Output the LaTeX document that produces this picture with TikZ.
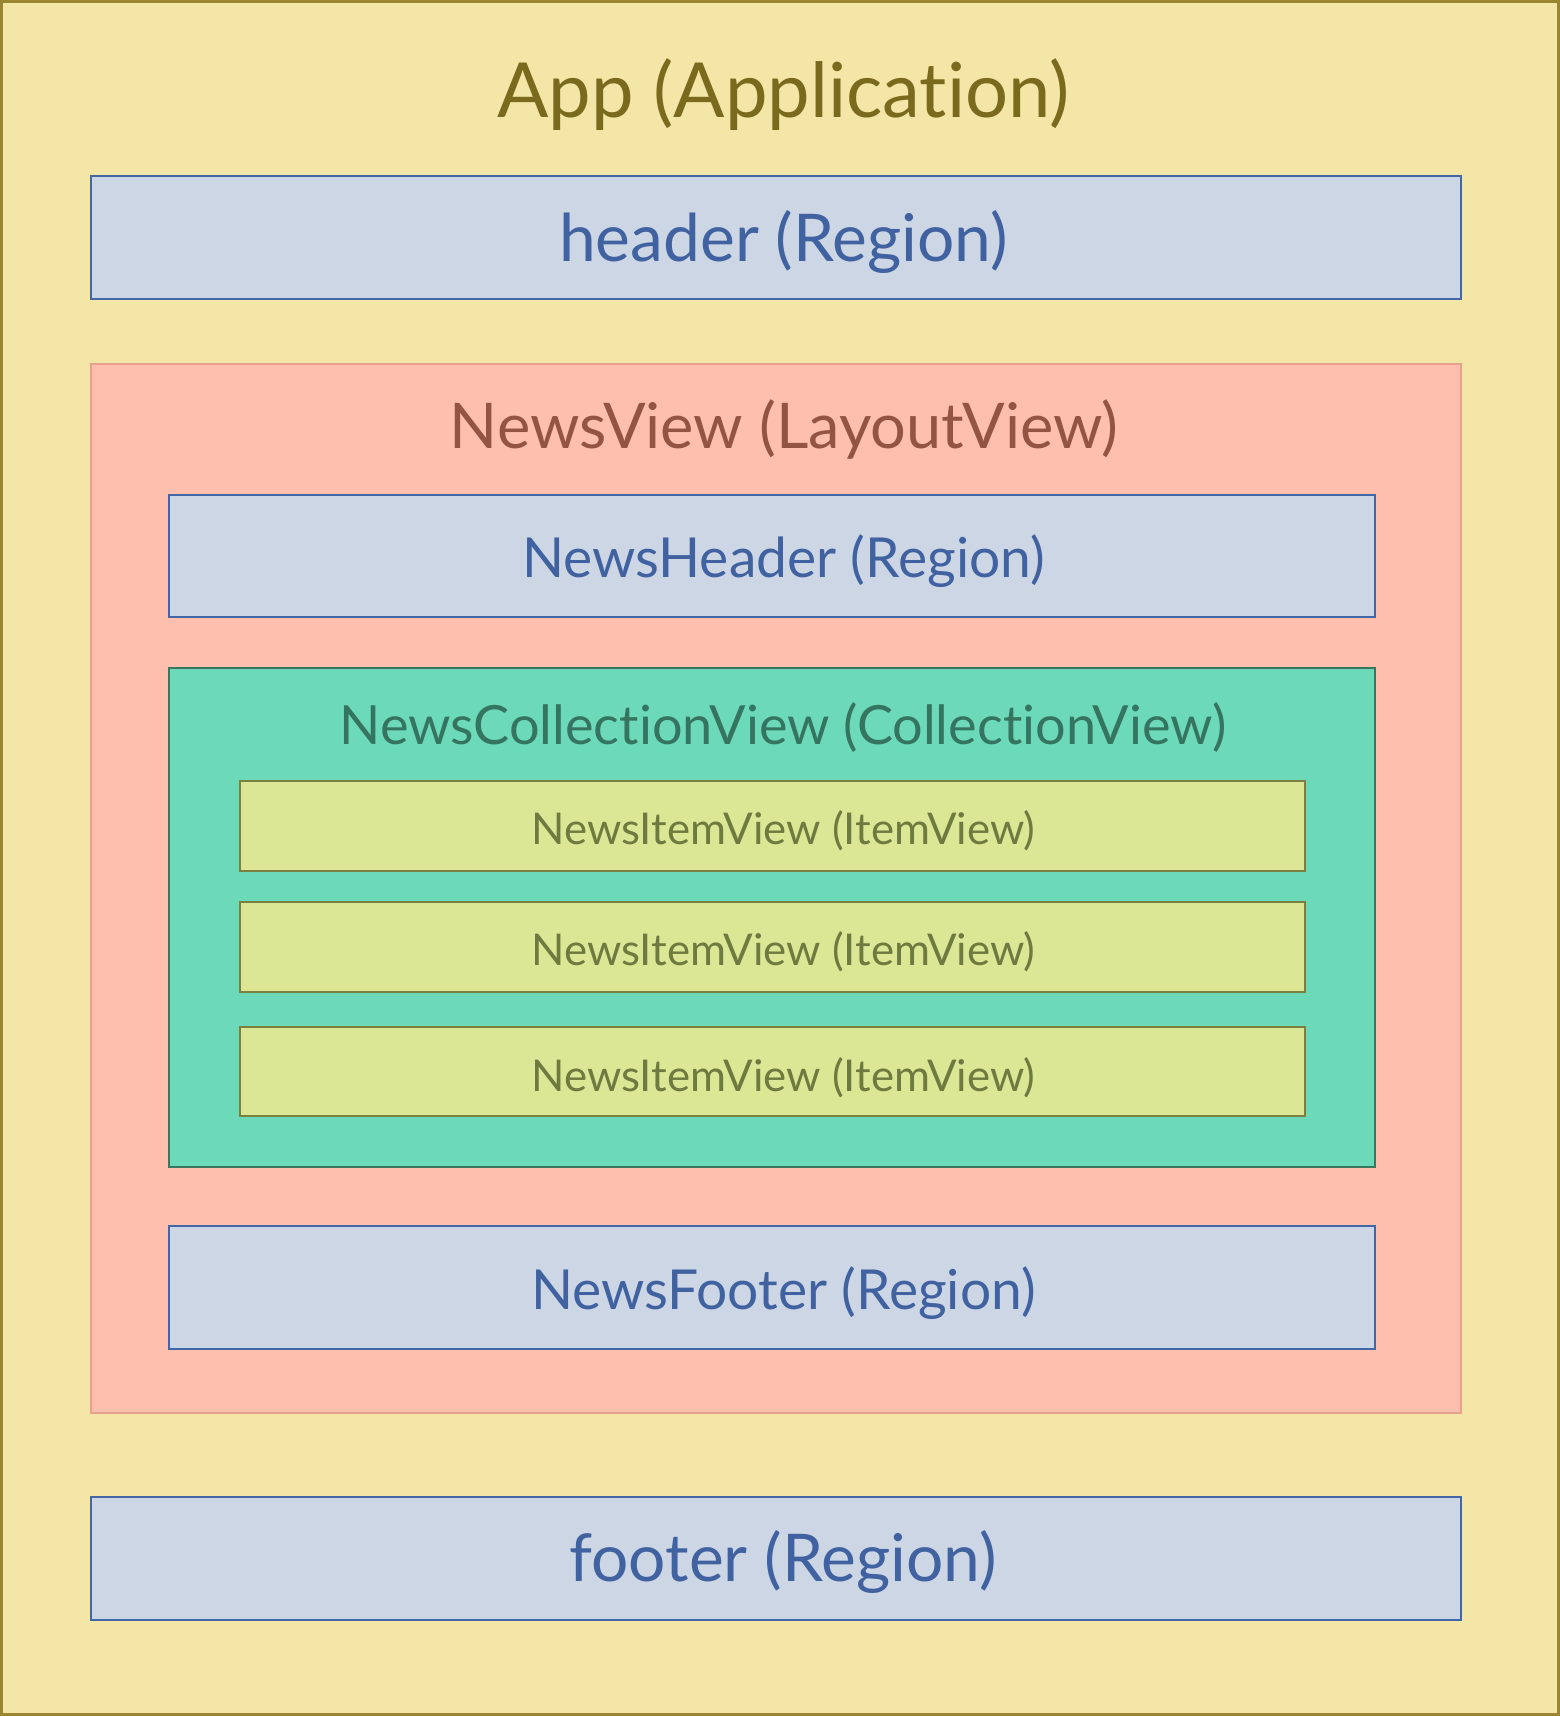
\documentclass[tikz,border=0pt]{standalone}
\usepackage{fontspec}
\setmainfont{Lato}[Ligatures=NoCommon]
\usepackage{color}
\usepackage{tikz}

\definecolor{appfill}{HTML}{F3E6A6}
\definecolor{appline}{HTML}{9A8530}
\definecolor{apptext}{HTML}{7A6A1E}
\definecolor{regionfill}{HTML}{CDD6E5}
\definecolor{regionline}{HTML}{4266A6}
\definecolor{regiontext}{HTML}{4062A0}
\definecolor{layoutfill}{HTML}{FFBFAE}
\definecolor{layoutline}{HTML}{E5A090}
\definecolor{layouttext}{HTML}{935443}
\definecolor{collfill}{HTML}{6CD9B9}
\definecolor{collline}{HTML}{3A7560}
\definecolor{colltext}{HTML}{357560}
\definecolor{itemfill}{HTML}{DCE795}
\definecolor{itemline}{HTML}{7A8040}
\definecolor{itemtext}{HTML}{6F7A40}

\begin{document}
\begin{tikzpicture}[x=.5pt, y=-.5pt]
		\tikzstyle{box} = [rectangle, draw, inner sep=0pt]
		\tikzstyle{app_view} = [box, fill=appfill, draw=appline, line width=1.3pt]
		\tikzstyle{region_view} = [box, fill=regionfill, draw=regionline,
		line width=.9pt, minimum height=56pt]
		\tikzstyle{layout_view} = [box, fill=layoutfill, draw=layoutline, line width=.9pt]
		\tikzstyle{coll_view} = [box, fill=collfill, draw=collline, line width=.9pt]
		\tikzstyle{item_view} = [box, fill=itemfill, draw=itemline, line width=.9pt,
		minimum width=486.5pt, minimum height=41pt]
		\tikzstyle{label} = [anchor=base, inner sep=0pt]
		\useasboundingbox (0,0) rectangle (1425,1568);
		% boxes
		\node[app_view, minimum width=711.2pt, minimum height=782.7pt] (app) at (712.5,784) {};
		\node[region_view, minimum width=626pt] (header) at (709,217) {};
		\node[layout_view, minimum width=626pt, minimum height=479pt] (news_view) at (709,812) {};
		\node[region_view, minimum width=551pt] (news_header) at (705,508) {};
		\node[coll_view, minimum width=551pt, minimum height=228pt] (news_coll) at (705,838) {};
		\foreach \y/\n in {755/1, 865/2, 979/3}
		\node[item_view] (news_item\n) at (705.5,\y) {};
		\node[region_view, minimum width=551pt, minimum height=56.5pt] (news_footer) at (705,1176.5) {};
		\node[region_view, minimum width=626pt] (footer) at (709,1424) {};
		% labels
		\node[label, text=apptext, font=\fontsize{34.7}{40}\selectfont]
		(app_label) at (716,107) {App (Application)};
		\node[label, text=regiontext, font=\fontsize{30.1}{36}\selectfont]
		(header_label) at (716,239) {header (Region)};
		\node[label, text=layouttext, font=\fontsize{28.8}{34}\selectfont]
		(news_view_label) at (716.5,410) {NewsView (LayoutView)};
		\node[label, text=regiontext, font=\fontsize{25.2}{30}\selectfont]
		(news_header_label) at (716,528) {NewsHeader (Region)};
		\node[label, text=colltext, font=\fontsize{24.7}{30}\selectfont]
		(news_coll_label) at (715.5,680) {NewsCollectionView (CollectionView)};
		\foreach \y/\n in {772/1, 882/2, 997/3}
		\node[label, text=itemtext, font=\fontsize{20}{24}\selectfont]
		(news_item_label\n) at (716,\y) {NewsItemView (ItemView)};
		\node[label, text=regiontext, font=\fontsize{25.2}{30}\selectfont]
		(news_footer_label) at (716,1197) {NewsFooter (Region)};
		\node[label, text=regiontext, font=\fontsize{30.1}{36}\selectfont]
		(footer_label) at (715.5,1445) {footer (Region)};
	\end{tikzpicture}
\end{document}
